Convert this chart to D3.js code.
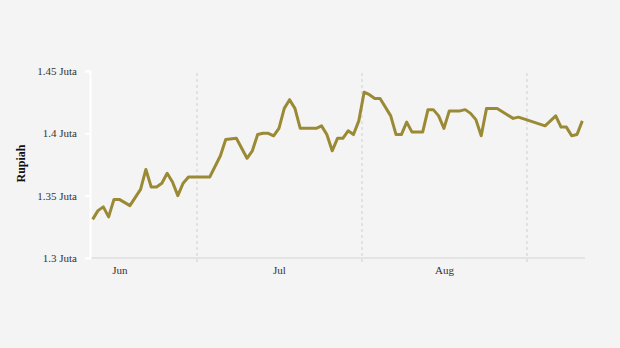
<!DOCTYPE html>
<html>
<head>
<meta charset="utf-8">
<script src="https://cdn.jsdelivr.net/npm/d3@7"></script>
<style>
    html, body { margin: 0; padding: 0; background: #f4f4f4; }
    #gold-chart svg { display: block; }
</style>
</head>
<body>
<div id="gold-chart"></div>
<script>
const dates = [
    '2024-06-11', '2024-06-12', '2024-06-13', '2024-06-14', '2024-06-15', '2024-06-16',
    '2024-06-18', '2024-06-20', '2024-06-21', '2024-06-22', '2024-06-23', '2024-06-24',
    '2024-06-25', '2024-06-26', '2024-06-27', '2024-06-28', '2024-06-29', '2024-07-03',
    '2024-07-05', '2024-07-06', '2024-07-08', '2024-07-10', '2024-07-11', '2024-07-12',
    '2024-07-13', '2024-07-14', '2024-07-15', '2024-07-16', '2024-07-17', '2024-07-18',
    '2024-07-19', '2024-07-20', '2024-07-23', '2024-07-24', '2024-07-25', '2024-07-26',
    '2024-07-27', '2024-07-28', '2024-07-29', '2024-07-30', '2024-07-31', '2024-08-01',
    '2024-08-02', '2024-08-03', '2024-08-04', '2024-08-06', '2024-08-07', '2024-08-08',
    '2024-08-09', '2024-08-10', '2024-08-12', '2024-08-13', '2024-08-14', '2024-08-15',
    '2024-08-16', '2024-08-17', '2024-08-19', '2024-08-20', '2024-08-21', '2024-08-22',
    '2024-08-23', '2024-08-24', '2024-08-26', '2024-08-29', '2024-08-30', '2024-09-04',
    '2024-09-06', '2024-09-07', '2024-09-08', '2024-09-09', '2024-09-10', '2024-09-11'
];

const prices = [
    1331000, 1338000, 1341000, 1333000, 1347000, 1347000,
    1342000, 1355000, 1371000, 1357000, 1357000, 1360000,
    1368000, 1361000, 1350000, 1360000, 1365000, 1365000,
    1382000, 1395000, 1396000, 1380000, 1386000, 1399000,
    1400000, 1400000, 1398000, 1404000, 1420000, 1427000,
    1420000, 1404000, 1404000, 1406000, 1399000, 1386000,
    1396000, 1396000, 1402000, 1399000, 1410000, 1433000,
    1431000, 1428000, 1428000, 1414000, 1399000, 1399000,
    1409000, 1401000, 1401000, 1419000, 1419000, 1414000,
    1404000, 1418000, 1418000, 1419000, 1416000, 1411000,
    1398000, 1420000, 1420000, 1412000, 1413000, 1406000,
    1414000, 1405000, 1405000, 1398000, 1399000, 1410000
];

const yTicks = [1300000, 1350000, 1400000, 1450000];
const monthStarts = ['2024-07-01', '2024-08-01', '2024-09-01'];
const monthLabels = ['2024-06-16', '2024-07-16', '2024-08-16'];

const margin = { top: 71, right: 35, bottom: 90, left: 90 },
    width = 620 - margin.left - margin.right,
    height = 348 - margin.top - margin.bottom,
    lineColor = '#9b8a35';

const parseDate = d3.timeParse('%Y-%m-%d');
const data = dates.map((d, i) => ({ date: parseDate(d), value: prices[i] }));

// each day is a slot, points sit in the middle of it
const mid = d => d3.timeHour.offset(d, 12);

const svg = d3.select('#gold-chart')
    .append('svg')
        .attr('width', width + margin.left + margin.right)
        .attr('height', height + margin.top + margin.bottom)
    .append('g')
        .attr('transform', `translate(${margin.left}, ${margin.top})`);

const x = d3.scaleTime()
    .domain([data[0].date, d3.timeDay.offset(data[data.length - 1].date, 1)])
    .range([0, width]);

const y = d3.scaleLinear()
    .domain([1300000, 1450000])
    .range([height, 0]);

// x baseline
svg.append('line')
    .attr('x1', 0)
    .attr('x2', width)
    .attr('y1', height)
    .attr('y2', height)
    .attr('stroke', '#e4e4e4')
    .attr('stroke-width', 2);

// month grid (dashed)
svg.append('g')
    .attr('transform', `translate(0, ${height})`)
    .call(d3.axisBottom(x).tickValues(monthStarts.map(parseDate)).tickFormat(''))
    .call(g => g.select('.domain').remove())
    .call(g => g.selectAll('.tick line')
        .attr('y1', 4)
        .attr('y2', -height)
        .attr('stroke', '#dcdcdc')
        .attr('stroke-width', 1.5)
        .attr('stroke-dasharray', '3,3'));

// month labels
svg.append('g')
    .attr('transform', `translate(0, ${height})`)
    .call(d3.axisBottom(x)
        .tickValues(monthLabels.map(d => mid(parseDate(d))))
        .tickSize(0)
        .tickPadding(8.5)
        .tickFormat(d3.timeFormat('%b')))
    .call(g => g.select('.domain').remove())
    .call(g => g.selectAll('text')
        .attr('font-family', '"Liberation Serif", "Times New Roman", serif')
        .attr('font-size', 11)
        .attr('fill', '#333'));

// y axis
svg.append('g')
    .call(d3.axisLeft(y)
        .tickValues(yTicks)
        .tickSize(5)
        .tickPadding(8)
        .tickFormat(d => `${d / 1e6} Juta`))
    .call(g => g.select('.domain')
        .attr('stroke', '#fff')
        .attr('stroke-width', 2))
    .call(g => g.selectAll('.tick line')
        .attr('stroke', '#fff')
        .attr('stroke-width', 2))
    .call(g => g.selectAll('text')
        .attr('font-family', '"Liberation Serif", "Times New Roman", serif')
        .attr('font-size', 11)
        .attr('fill', '#333'));

// y title
svg.append('text')
    .text('Rupiah')
    .attr('transform', `translate(${25 - margin.left}, ${height / 2 - 1}) rotate(-90)`)
    .attr('text-anchor', 'middle')
    .attr('font-family', '"Liberation Serif", "Times New Roman", serif')
    .attr('font-weight', 'bold')
    .attr('font-size', 12)
    .attr('fill', '#111');

// price line
svg.append('path')
    .datum(data)
    .attr('fill', 'none')
    .attr('stroke', lineColor)
    .attr('stroke-width', 3)
    .attr('stroke-linejoin', 'round')
    .attr('d', d3.line()
        .x(d => x(mid(d.date)))
        .y(d => y(d.value)));
</script>
</body>
</html>
